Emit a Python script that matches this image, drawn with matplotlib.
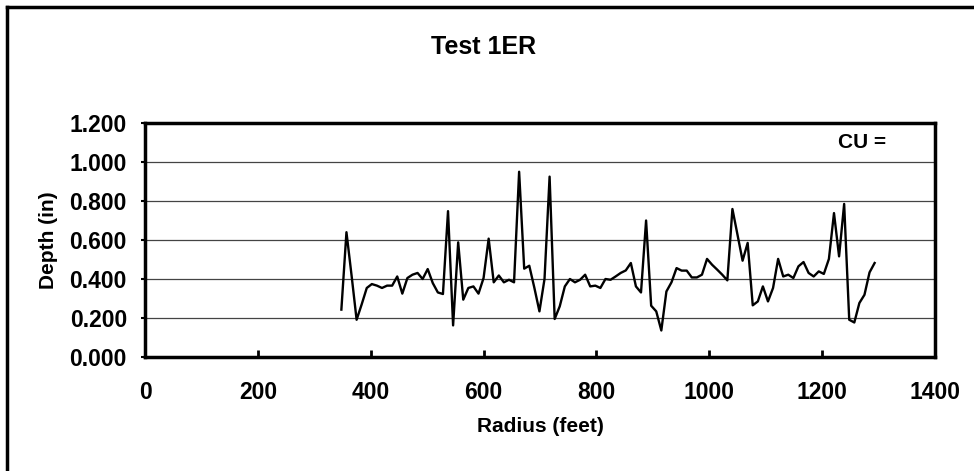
import numpy as np
import matplotlib
matplotlib.use("Agg")
import matplotlib.pyplot as plt
from matplotlib.lines import Line2D

plt.rcParams['font.family'] = ['Liberation Sans', 'DejaVu Sans']
plt.rcParams['font.weight'] = 'bold'

# радиус (футы) и глубина (дюймы)
radius = [348, 357, 366, 375, 384, 393, 402, 411, 420, 429,
          438, 447, 456, 465, 474, 483, 492, 501, 510, 519,
          528, 537, 546, 555, 564, 573, 582, 591, 600, 609,
          618, 627, 636, 645, 654, 663, 672, 681, 690, 699,
          708, 717, 726, 735, 744, 753, 762, 771, 780, 789,
          798, 807, 816, 825, 834, 843, 852, 861, 870, 879,
          888, 897, 906, 915, 924, 933, 942, 951, 960, 969,
          978, 987, 996, 1005, 1014, 1023, 1032, 1041, 1050, 1059,
          1068, 1077, 1086, 1095, 1104, 1113, 1122, 1131, 1140, 1149,
          1158, 1167, 1176, 1185, 1194, 1203, 1212, 1221, 1230, 1239,
          1248, 1257, 1266, 1275, 1284, 1293]
depth = [0.243, 0.640, 0.420, 0.191, 0.270, 0.354, 0.374, 0.366, 0.354, 0.366,
         0.366, 0.413, 0.325, 0.405, 0.422, 0.431, 0.400, 0.451, 0.379, 0.331,
         0.323, 0.748, 0.162, 0.588, 0.294, 0.354, 0.362, 0.325, 0.405, 0.607,
         0.383, 0.418, 0.383, 0.396, 0.383, 0.950, 0.453, 0.468, 0.355, 0.234,
         0.400, 0.925, 0.195, 0.260, 0.362, 0.400, 0.383, 0.396, 0.422, 0.362,
         0.366, 0.354, 0.400, 0.396, 0.413, 0.431, 0.444, 0.482, 0.362, 0.331,
         0.700, 0.263, 0.234, 0.136, 0.336, 0.383, 0.456, 0.443, 0.443, 0.408,
         0.408, 0.422, 0.503, 0.473, 0.448, 0.422, 0.393, 0.759, 0.627, 0.494,
         0.585, 0.265, 0.285, 0.362, 0.285, 0.354, 0.503, 0.413, 0.422, 0.405,
         0.465, 0.487, 0.431, 0.413, 0.439, 0.426, 0.503, 0.738, 0.516, 0.785,
         0.191, 0.177, 0.277, 0.319, 0.434, 0.482]

x_ticks = [0, 200, 400, 600, 800, 1000, 1200, 1400]
y_ticks = [0.0, 0.2, 0.4, 0.6, 0.8, 1.0, 1.2]

fig = plt.figure(figsize=(9.74, 4.71), dpi=100)
ax = fig.add_axes([145 / 974, 1 - 357 / 471, 790 / 974, 234 / 471])

ax.plot(radius, depth, color='black', linewidth=1.7)

ax.set_xlim(0, 1400)
ax.set_ylim(0, 1.2)
ax.set_xticks(x_ticks)
ax.set_yticks(y_ticks)
ax.set_yticklabels([f"{v:.3f}" for v in y_ticks])
ax.tick_params(axis='x', direction='in', length=5, width=2, pad=17, labelsize=16.5)
ax.tick_params(axis='y', direction='out', length=3, width=1.5, pad=10, labelsize=16.5)

for y in y_ticks[1:-1]:
    ax.axhline(y, color='#444444', linewidth=0.9, zorder=0)

for s in ax.spines.values():
    s.set_linewidth(2.5)
    s.set_color('black')

ax.set_xlabel("Radius (feet)", fontsize=15, fontweight='bold', labelpad=10)
ax.set_ylabel("Depth (in)", fontsize=15, fontweight='bold', labelpad=8)
ax.text((886 - 145) / 790, (357 - 142) / 234, "CU =", transform=ax.transAxes,
        ha='right', va='center', fontsize=15, fontweight='bold')

fig.text(484 / 974, 1 - 47 / 471, "Test 1ER", ha='center', va='center',
         fontsize=18, fontweight='bold')

# рамка всей диаграммы (видны только верх и левый край)
fx = 6.5 / 974
fy = 1 - 6.5 / 471
fig.add_artist(Line2D([fx, fx], [0, fy], transform=fig.transFigure, color='black', linewidth=2.5))
fig.add_artist(Line2D([fx, 1], [fy, fy], transform=fig.transFigure, color='black', linewidth=2.5))

fig.savefig("out.png", dpi=100)
